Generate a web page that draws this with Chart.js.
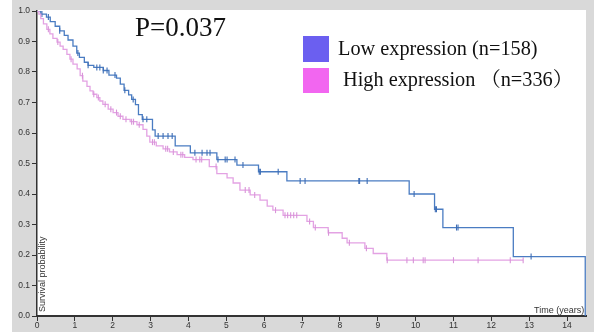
<!DOCTYPE html>
<html>
<head>
<meta charset="utf-8">
<script src="https://cdn.jsdelivr.net/npm/chart.js@4.4.1/dist/chart.umd.min.js"></script>
<style>
  html, body { margin: 0; padding: 0; background: #fff; }
  #wrap { position: relative; width: 594px; height: 334px; overflow: hidden; }
  #km { position: absolute; left: 0; top: 0; }
  .txt { position: absolute; white-space: nowrap; line-height: 1; }
  .serif { font-family: "Liberation Serif", "Noto Serif CJK SC", "Noto Sans CJK SC", serif; color: #111; }
  .sans { font-family: "Liberation Sans", "DejaVu Sans", sans-serif; color: #333; font-size: 9px; }
  .sq { position: absolute; width: 26px; }
</style>
</head>
<body>
<div id="wrap">
  <canvas id="km" width="594" height="334"></canvas>
  <div class="txt serif" style="left:135px; top:14px; font-size:27px;">P=0.037</div>
  <div class="sq" style="left:303px; top:36px; height:26px; background:#6b5ff0;"></div>
  <div class="sq" style="left:303px; top:68px; height:25px; background:#f266f0;"></div>
  <div class="txt serif" style="left:338px; top:38px; font-size:20.3px;">Low expression (n=158)</div>
  <div class="txt serif" style="left:343px; top:69px; font-size:20.3px;">High expression （n=336）</div>
  <div class="txt sans" style="left:38px; top:312px; transform-origin:0 0; transform:rotate(-90deg);">Survival probability</div>
  <div class="txt sans" style="left:534px; top:306px;">Time (years)</div>
</div>
<script>
// tick labels
const xTicks = [0, 1, 2, 3, 4, 5, 6, 7, 8, 9, 10, 11, 12, 13, 14];
const yTicks = [0, 0.1, 0.2, 0.3, 0.4, 0.5, 0.6, 0.7, 0.8, 0.9, 1.0];

// low expression (n=158) - step times / survival after each step
const lowTimes = [0, 0.1, 0.25, 0.35, 0.48, 0.6, 0.72, 0.82, 0.95, 1.05, 1.12, 1.25, 1.35, 1.5, 1.75, 1.9,
  2.1, 2.2, 2.3, 2.42, 2.5, 2.6, 2.68, 2.78, 3.05, 3.12, 3.65, 4.05, 4.75, 5.28, 5.85, 6.6,
  9.83, 10.5, 10.72, 12.58, 14.48];
const lowSurv = [1, 0.99, 0.98, 0.965, 0.95, 0.935, 0.92, 0.905, 0.885, 0.862, 0.848, 0.832, 0.822, 0.815, 0.805, 0.79,
  0.78, 0.76, 0.74, 0.725, 0.71, 0.693, 0.66, 0.645, 0.61, 0.59, 0.558, 0.535, 0.513, 0.495, 0.473, 0.443,
  0.40, 0.35, 0.29, 0.195, 0];
const lowCensor = [0.13, 0.3, 0.6, 1.08, 1.35, 1.58, 1.66, 1.75, 1.85, 2.06, 2.32, 2.54, 2.8, 2.9,
  3.2, 3.33, 3.46, 3.57, 4.17, 4.36, 4.49, 4.57, 4.78, 4.97, 5.02, 5.23, 5.44, 5.87, 5.9, 6.37,
  6.95, 7.08, 8.5, 8.52, 8.72, 9.96, 10.52, 10.55, 11.08, 11.12, 13.05];

// high expression (n=336)
const highTimes = [0, 0.05, 0.1, 0.17, 0.26, 0.34, 0.42, 0.53, 0.61, 0.69, 0.79, 0.87, 0.95, 1.06, 1.14, 1.21,
  1.32, 1.4, 1.48, 1.58, 1.66, 1.74, 1.88, 2.01, 2.14, 2.27, 2.46, 2.64, 2.8, 2.9, 2.98, 3.15,
  3.33, 3.5, 3.7, 3.9, 4.12, 4.55, 4.75, 5.02, 5.18, 5.36, 5.63, 5.89, 6.08, 6.23, 6.5,
  7.13, 7.3, 7.69, 8.06, 8.19, 8.66, 8.88, 9.24, 12.84];
const highSurv = [1, 0.99, 0.975, 0.958, 0.94, 0.925, 0.91, 0.898, 0.885, 0.874, 0.858, 0.842, 0.826, 0.81, 0.788, 0.77,
  0.753, 0.738, 0.727, 0.716, 0.705, 0.694, 0.678, 0.667, 0.655, 0.645, 0.637, 0.627, 0.612, 0.59, 0.57, 0.558,
  0.548, 0.538, 0.529, 0.52, 0.513, 0.49, 0.467, 0.453, 0.436, 0.413, 0.397, 0.38, 0.36, 0.347, 0.33,
  0.31, 0.29, 0.273, 0.255, 0.24, 0.222, 0.205, 0.183, 0.183];
const highCensor = [0.3, 0.55, 0.9, 1.2, 1.5, 1.62, 1.8, 1.95, 2.1, 2.2, 2.35, 2.5, 2.55, 2.7, 3.05, 3.1,
  3.4, 3.45, 3.6, 3.8, 3.85, 4.2, 4.3, 4.35, 4.73, 5.5, 5.6, 5.75, 6.3, 6.55, 6.62, 6.7, 6.78, 6.86,
  7.2, 7.35, 7.7, 8.25, 8.7, 9.25, 9.77, 9.94, 10.2, 10.25, 11.0, 11.65, 12.5, 12.84];

const lowColor = '#4a7cc2';
const highColor = '#e3a2e3';

function survAt(times, surv, t) {
  let s = surv[0];
  for (let i = 0; i < times.length; i++) {
    if (times[i] <= t) s = surv[i];
  }
  return s;
}

function curve(times, surv) {
  return times.map((t, i) => ({ x: t, y: surv[i] }));
}

function marks(censor, times, surv) {
  return censor.map(t => ({ x: t, y: survAt(times, surv, t) }));
}

const bgPlugin = {
  id: 'bg',
  beforeDraw(chart) {
    const ctx = chart.ctx;
    const a = chart.chartArea;
    ctx.save();
    ctx.fillStyle = '#fff';
    ctx.fillRect(0, 0, chart.width, chart.height);
    ctx.fillStyle = '#d9d9d9';
    ctx.fillRect(12, 0, chart.width - 12, 332);
    ctx.fillStyle = '#fff';
    ctx.fillRect(a.left, a.top - 1, a.right - a.left, a.bottom - a.top + 1);
    ctx.restore();
  }
};

const tickFont = { family: 'Liberation Sans', size: 8.5 };

new Chart(document.getElementById('km').getContext('2d'), {
  type: 'line',
  data: {
    datasets: [
      {
        data: marks(highCensor, highTimes, highSurv),
        showLine: false,
        pointStyle: 'line',
        rotation: 90,
        pointRadius: 3,
        pointBorderWidth: 1.1,
        borderColor: '#d994d9'
      },
      {
        data: curve(highTimes, highSurv),
        stepped: true,
        borderColor: highColor,
        borderWidth: 1.3,
        pointRadius: 0
      },
      {
        data: marks(lowCensor, lowTimes, lowSurv),
        showLine: false,
        pointStyle: 'line',
        rotation: 90,
        pointRadius: 3,
        pointBorderWidth: 1.1,
        borderColor: '#3d6db5'
      },
      {
        data: curve(lowTimes, lowSurv),
        stepped: true,
        borderColor: lowColor,
        borderWidth: 1.3,
        pointRadius: 0
      }
    ]
  },
  options: {
    responsive: false,
    animation: false,
    events: [],
    layout: { padding: { left: 12, top: 11, right: 8, bottom: 2 } },
    plugins: { legend: { display: false }, tooltip: { enabled: false } },
    scales: {
      x: {
        type: 'linear',
        min: 0,
        max: 14.5,
        afterBuildTicks(scale) { scale.ticks = xTicks.map(v => ({ value: v })); },
        afterFit(scale) { scale.height = 16; },
        ticks: { font: tickFont, color: '#333', padding: 0, maxRotation: 0, autoSkip: false },
        grid: { drawOnChartArea: false, drawTicks: true, tickLength: 5, color: '#333', tickWidth: 1 },
        border: { display: true, color: '#333', width: 2 }
      },
      y: {
        type: 'linear',
        min: 0,
        max: 1,
        afterBuildTicks(scale) { scale.ticks = yTicks.map(v => ({ value: v })); },
        afterFit(scale) { scale.width = 25; },
        ticks: { font: tickFont, color: '#333', padding: 2, callback: v => v.toFixed(1) },
        grid: { drawOnChartArea: false, drawTicks: true, tickLength: 5, color: '#333', tickWidth: 1 },
        border: { display: true, color: '#333', width: 1.5 }
      }
    }
  },
  plugins: [bgPlugin]
});
</script>
</body>
</html>
